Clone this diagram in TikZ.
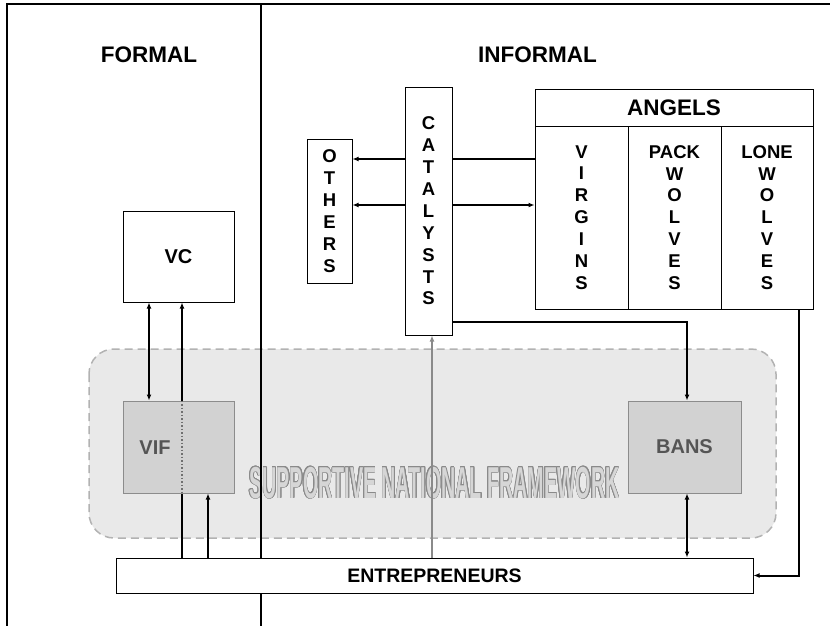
\documentclass[tikz,border=0pt]{standalone}
\usepackage{fontspec}
\setmainfont{Liberation Sans}
\usetikzlibrary{arrows.meta,calc}
\definecolor{fwfill}{HTML}{E9E9E9}
\definecolor{fwline}{HTML}{B2B2B2}
\definecolor{patfill}{HTML}{D2D2D2}
\definecolor{patline}{HTML}{8C8C8C}
\definecolor{pattext}{HTML}{555555}
\definecolor{arrgray}{HTML}{8A8A8A}
\definecolor{snfout}{HTML}{8A8A8A}
\definecolor{snfin}{HTML}{D6D6D6}
\pgfdeclarelayer{back}
\pgfdeclarelayer{mid}
\pgfsetlayers{back,mid,main}
\newcommand\snftext{\scalebox{0.44}[1]{\bfseries\fontsize{44.7}{44.7}\selectfont SUPPORTIVE NATIONAL FRAMEWORK}}
\begin{document}
\begin{tikzpicture}[x=1pt,y=-1pt,
  box/.style={draw=black,line width=1pt,fill=white,inner sep=0pt},
  patbox/.style={draw=patline,line width=1pt,fill=patfill,inner sep=0pt},
  vtext/.style={font=\bfseries\fontsize{18.5}{21.9}\selectfont,align=center},
  btext/.style={font=\bfseries\fontsize{20}{24}\selectfont},
  title/.style={font=\bfseries\fontsize{22.5}{27}\selectfont,anchor=base,inner sep=0pt},
  tip/.tip={Latex[length=6pt,width=5pt]},
  conn/.style={line width=2pt,-tip},
  dconn/.style={line width=2pt,tip-tip},
  frameline/.style={line width=1.3pt}]
\useasboundingbox (0,0) rectangle (830,626);

% framework background
\begin{pgfonlayer}{back}
  \draw[fwline,line width=1.5pt,dash pattern=on 8pt off 5pt,fill=fwfill,rounded corners=25pt]
    (89,349) rectangle (776,538);
  \foreach \a in {0,22.5,...,337.5}
    \node[anchor=base,inner sep=0pt,text=snfout] at ($(434.5,498)+(\a:0.55)$) {\snftext};
  \node[anchor=base,inner sep=0pt,text=snfin] (snf) at (434.5,498) {\snftext};
\end{pgfonlayer}

% titles
\node[title] (formal) at (149,63) {FORMAL};
\node[title] (informal) at (537.5,63) {INFORMAL};

% boxes
\node[box,minimum width=47pt,minimum height=248pt,vtext] (cat) at (428.5,211)
  {C\\A\\T\\A\\L\\Y\\S\\T\\S};
\node[box,minimum width=45pt,minimum height=144pt,vtext] (oth) at (329.5,211)
  {O\\T\\H\\E\\R\\S};
\node[box,minimum width=278pt,minimum height=37pt,font=\bfseries\fontsize{22.5}{27}\selectfont] (ang) at (674,107.5) {ANGELS};
\node[box,minimum width=93pt,minimum height=183pt,vtext] (vir) at (581.5,217.5)
  {V\\I\\R\\G\\I\\N\\S};
\node[box,minimum width=93pt,minimum height=183pt,vtext] (pack) at (674.5,217.5)
  {PACK\\W\\O\\L\\V\\E\\S};
\node[box,minimum width=92pt,minimum height=183pt,vtext] (lone) at (767,217.5)
  {LONE\\W\\O\\L\\V\\E\\S};
\node[box,minimum width=111pt,minimum height=91pt,btext] (vc) at (178.5,256.5) {VC};
\node[patbox,minimum width=111pt,minimum height=92pt] (vif) at (178.5,447) {};
\node[btext,text=pattext,inner sep=0pt] (viftext) at (155,448) {VIF};
\node[patbox,minimum width=113pt,minimum height=92pt,btext,text=pattext] (bans) at (684.5,447) {BANS};
\node[box,minimum width=637pt,minimum height=35pt,font=\bfseries\fontsize{19.5}{24}\selectfont] (ent) at (434.5,575.5) {ENTREPRENEURS};

\coordinate (u1) at ([yshift=58.5pt]vir.west);
\coordinate (l1) at ([yshift=12.5pt]vir.west);
\coordinate (c1) at ([yshift=-111pt]cat.east);

% dividers and connectors
\begin{pgfonlayer}{mid}
  \draw[frameline] (7,626) -- (7,4) -- (830,4);
  \draw[frameline] (261,4) -- (261,626);
  \draw[conn] (u1) -- (u1 -| oth.east);
  \draw[dconn] (l1 -| oth.east) -- (l1);
  \draw[dconn] ([xshift=-29.5pt]vc.south) -- ([xshift=-29.5pt]vif.north);
  \draw[conn] ([xshift=-252.5pt]ent.north) -- ([xshift=3.5pt]vc.south);
  \draw[conn] ([xshift=-226.5pt]ent.north) -- ([xshift=29.5pt]vif.south);
  \draw[conn,arrgray,line width=1.6pt] ([xshift=-2.5pt]ent.north) -- ([xshift=3.5pt]cat.south);
  \draw[conn] (c1) -| ([xshift=2.5pt]bans.north);
  \draw[dconn] ([xshift=2.5pt]bans.south) -- ([xshift=252.5pt]ent.north);
  \draw[conn] ([xshift=32pt]lone.south) |- (ent.east);
\end{pgfonlayer}
\draw[patline!80!black,line width=1.5pt,dotted] ([xshift=3.5pt]vif.north) -- ([xshift=3.5pt]vif.south);
\end{tikzpicture}
\end{document}
